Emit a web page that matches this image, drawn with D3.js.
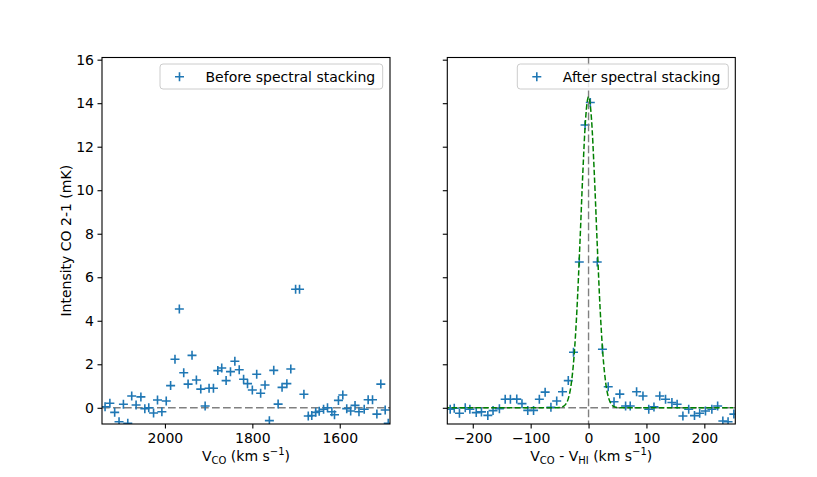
<!DOCTYPE html>
<html lang="en">
    <head>
        <meta charset="utf-8">
        <title>CO 2-1 spectral stacking</title>
        <script src="https://cdn.jsdelivr.net/npm/d3@7/dist/d3.min.js"></script>
        <style type="text/css">
            body { margin: 0; background: white; }
            text { font-family: "DejaVu Sans", sans-serif; fill: black; }
            .axis text { font-size: 14px; font-family: "DejaVu Sans", sans-serif; }
            .axis line { stroke: black; stroke-width: 1.1; }
        </style>
    </head>
    <body>
        <script type="text/javascript">

            // before stacking: velocity (km/s) and intensity (mK)
            var beforeVel = [2137, 2126, 2115, 2105, 2095, 2085, 2076, 2066, 2055, 2046, 2037, 2026, 2017, 2007,
                1997, 1987, 1977, 1967, 1957, 1947, 1938, 1928, 1918, 1908, 1899, 1889, 1879, 1870, 1860, 1850,
                1840, 1830, 1820, 1811, 1800, 1790, 1781, 1771, 1761, 1751, 1741, 1732, 1721, 1712, 1701, 1692,
                1682, 1672, 1664, 1655, 1647, 1637, 1628, 1618, 1612, 1603, 1593, 1584, 1575, 1565, 1556, 1544,
                1535, 1525, 1515, 1506, 1496, 1489];
            var beforeInt = [0.05, 0.21, -0.21, -0.64, 0.16, -0.71, 0.54, 0.13, 0.50, -0.04, 0.0, -0.24, 0.36, -0.18,
                0.31, 1.02, 2.23, 4.54, 1.61, 1.09, 2.41, 1.28, 0.86, 0.08, 0.90, 0.90, 1.71, 1.83, 1.25, 1.66,
                2.14, 1.75, 1.31, 1.11, 0.82, 1.54, 0.67, 1.05, -0.59, 1.72, 0.17, 0.94, 1.11, 1.78, 5.45, 5.45,
                0.62, -0.38, -0.36, -0.21, -0.16, -0.07, 0.0, -0.18, -0.32, 0.34, 0.59, -0.04, -0.15, 0.11, -0.18, -0.07,
                0.37, 0.37, -0.29, 1.09, -0.10, -0.71];

            // after stacking: V_CO - V_HI (km/s) and intensity (mK)
            var afterVel = [-239, -232, -223, -213, -205, -194, -185, -174, -165, -154, -144, -135, -124, -115, -105,
                -95, -85, -75, -65, -55, -45, -35, -26, -16, -6, 3, 15, 24, 34, 44, 54, 64, 72, 83, 94, 104, 113,
                123, 133, 144, 153, 163, 173, 183, 192, 202, 213, 223, 232, 241, 251];
            var afterInt = [-0.07, -0.02, -0.25, 0.0, -0.07, -0.22, -0.19, -0.35, -0.13, -0.04, 0.39, 0.39, 0.40, 0.19, -0.12,
                -0.12, 0.39, 0.72, 0.02, 0.31, 0.74, 1.25, 2.55, 6.70, 13.0, 14.03, 6.70, 2.69, 0.97, 0.28, 0.63, 0.08, 0.08,
                0.74, 0.54, -0.07, 0.04, 0.54, 0.39, 0.24, 0.16, -0.38, -0.07, -0.36, -0.25, -0.15, -0.07, 0.08, -0.61,
                -0.64, -0.29];

            // gaussian fit line
            var fitVel = [-250, -60, -55, -50, -45, -40, -35, -30, -25, -20, -15, -10, -5, 0,
                5, 10, 15, 20, 25, 30, 35, 40, 45, 50, 55, 60, 250];
            var fitInt = [0, 0, 0.002, 0.011, 0.043, 0.145, 0.42, 1.08, 2.38, 4.54, 7.50, 10.73, 13.31, 14.3,
                13.31, 10.73, 7.50, 4.54, 2.38, 1.08, 0.42, 0.145, 0.043, 0.011, 0.002, 0, 0];

            var yTicks = [0, 2, 4, 6, 8, 10, 12, 14, 16];
            var leftXTicks = [2000, 1800, 1600];
            var rightXTicks = [-200, -100, 0, 100, 200];

            var w = 817, h = 477;
            var plotTop = 57.5, plotBottom = 424;
            var blue = "#1f77b4";
            var fmt = d3.format("d");

            var svg = d3.select("body")
                .append("svg")
                .attr("width", w)
                .attr("height", h);

            var yScale = d3.scaleLinear()
                .domain([-0.745, 16.1])
                .range([plotBottom, plotTop]);

            var xLeft = d3.scaleLinear().domain([2144, 1485]).range([102, 390]);
            var xRight = d3.scaleLinear().domain([-244, 253.5]).range([447.3, 735.3]);

            function plus(sel, x, y) {
                sel.append("path")
                    .attr("d", "M" + (x - 4.5) + "," + y + "H" + (x + 4.5) + "M" + x + "," + (y - 4.5) + "V" + (y + 4.5))
                    .attr("stroke", blue)
                    .attr("stroke-width", 1.6)
                    .attr("fill", "none");
            }

            function panel(id, xScale, xTicks, vel, val, showYLabels) {
                var x0 = xScale.range()[0], x1 = xScale.range()[1];

                svg.append("clipPath").attr("id", id)
                    .append("rect")
                    .attr("x", x0).attr("y", plotTop)
                    .attr("width", x1 - x0).attr("height", plotBottom - plotTop);

                var g = svg.append("g").attr("clip-path", "url(#" + id + ")");

                g.append("line")
                    .attr("x1", x0).attr("x2", x1)
                    .attr("y1", yScale(0)).attr("y2", yScale(0))
                    .attr("stroke", "gray")
                    .attr("stroke-width", 1.4)
                    .attr("stroke-dasharray", "7.7,3.3");

                for (var i = 0; i < vel.length; i++) {
                    plus(g, xScale(vel[i]), yScale(val[i]));
                }

                var xAxis = d3.axisBottom(xScale)
                    .tickValues(xTicks)
                    .tickFormat(fmt)
                    .tickSize(4.5)
                    .tickPadding(4.5)
                    .tickSizeOuter(0);
                svg.append("g")
                    .attr("class", "axis")
                    .attr("transform", "translate(0," + plotBottom + ")")
                    .call(xAxis)
                    .call(function(s) { s.select(".domain").remove(); });

                var yAxis = d3.axisLeft(yScale)
                    .tickValues(yTicks)
                    .tickFormat(showYLabels ? fmt : "")
                    .tickSize(4.5)
                    .tickPadding(3.5)
                    .tickSizeOuter(0);
                svg.append("g")
                    .attr("class", "axis")
                    .attr("transform", "translate(" + x0 + ",0)")
                    .call(yAxis)
                    .call(function(s) { s.select(".domain").remove(); });

                return g;
            }

            panel("clipL", xLeft, leftXTicks, beforeVel, beforeInt, true);
            var gR = panel("clipR", xRight, rightXTicks, afterVel, afterInt, false);

            // vertical zero line and fit on the right panel
            gR.append("line")
                .attr("x1", xRight(0)).attr("x2", xRight(0))
                .attr("y1", plotTop).attr("y2", plotBottom)
                .attr("stroke", "gray")
                .attr("stroke-width", 1.4)
                .attr("stroke-dasharray", "7.7,3.3");

            var fitLine = d3.line()
                .x(function(d, i) { return xRight(fitVel[i]); })
                .y(function(d, i) { return yScale(fitInt[i]); })
                .curve(d3.curveMonotoneX);

            gR.append("path")
                .attr("d", fitLine(fitVel))
                .attr("fill", "none")
                .attr("stroke", "green")
                .attr("stroke-width", 1.5)
                .attr("stroke-dasharray", "5.5,2.4");

            // frames
            [xLeft, xRight].forEach(function(s) {
                svg.append("rect")
                    .attr("x", s.range()[0]).attr("y", plotTop)
                    .attr("width", s.range()[1] - s.range()[0]).attr("height", plotBottom - plotTop)
                    .attr("fill", "none")
                    .attr("stroke", "black")
                    .attr("stroke-width", 1.1);
            });

            // legends
            function legend(x0, x1, label) {
                svg.append("rect")
                    .attr("x", x0).attr("y", 64)
                    .attr("width", x1 - x0).attr("height", 25)
                    .attr("rx", 3)
                    .attr("fill", "white")
                    .attr("fill-opacity", 0.8)
                    .attr("stroke", "#cccccc")
                    .attr("stroke-width", 1);
                plus(svg, x0 + 19.5, 76.7);
                svg.append("text")
                    .attr("x", x0 + 45.5)
                    .attr("y", 81.5)
                    .style("font-size", "14px")
                    .text(label);
            }
            legend(160, 382.7, "Before spectral stacking");
            legend(517.3, 728.3, "After spectral stacking");

            // axis labels
            svg.append("text")
                .attr("transform", "translate(66.5," + ((plotTop + plotBottom) / 2) + ") rotate(-90)")
                .attr("text-anchor", "middle")
                .attr("dy", "0.35em")
                .style("font-size", "14px")
                .text("Intensity CO 2-1 (mK)");

            var lx = svg.append("text")
                .attr("x", 246).attr("y", 461)
                .attr("text-anchor", "middle")
                .style("font-size", "14px");
            lx.append("tspan").text("V");
            lx.append("tspan").attr("dy", 3).style("font-size", "10px").text("CO");
            lx.append("tspan").attr("dy", -3).text(" (km s");
            lx.append("tspan").attr("dy", -6).style("font-size", "10px").text("\u22121");
            lx.append("tspan").attr("dy", 6).text(")");

            var rx = svg.append("text")
                .attr("x", 591.3).attr("y", 461)
                .attr("text-anchor", "middle")
                .style("font-size", "14px");
            rx.append("tspan").text("V");
            rx.append("tspan").attr("dy", 3).style("font-size", "10px").text("CO");
            rx.append("tspan").attr("dy", -3).text(" - V");
            rx.append("tspan").attr("dy", 3).style("font-size", "10px").text("HI");
            rx.append("tspan").attr("dy", -3).text(" (km s");
            rx.append("tspan").attr("dy", -6).style("font-size", "10px").text("\u22121");
            rx.append("tspan").attr("dy", 6).text(")");

        </script>
    </body>
</html>
